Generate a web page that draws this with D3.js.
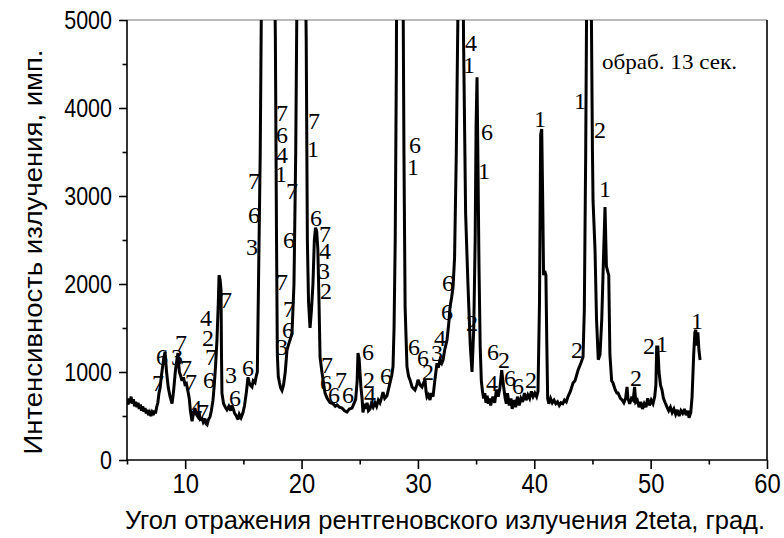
<!DOCTYPE html>
<html>
<head>
<meta charset="utf-8">
<script src="https://cdn.jsdelivr.net/npm/d3@7"></script>
<style>
  html, body { margin: 0; padding: 0; background: #fff; }
  svg { display: block; }
</style>
</head>
<body>
<svg id="chart" width="784" height="538"></svg>
<script>
// ---- data ----
const twoTheta = [
  5.0,5.1,5.15,5.25,5.35,5.45,5.55,5.65,5.75,5.85,5.95,6.05,6.15,6.25,6.35,6.45,6.55,6.65,6.75,6.85,6.95,7.05,7.15,7.25,7.35,7.45,7.55,7.65,7.75,7.85,7.95,8.05,8.15,8.27,8.4,8.55,8.7,8.87,9.0,9.15,9.3,9.38,9.5,9.6,9.73,9.85,9.98,10.1,10.24,10.35,10.45,10.59,10.7,10.84,10.95,11.1,11.2,11.3,11.45,11.55,11.7,11.8,11.88,12.0,12.13,12.25,12.39,12.5,12.6,12.73,12.85,12.91,13.0,13.08,13.12,13.16,13.3,13.45,13.59,13.75,13.9,14.0,14.11,14.25,14.4,14.54,14.65,14.8,14.97,15.1,15.25,15.4,15.5,15.6,15.74,15.85,16.0,16.1,16.2,16.3,16.45,16.55,16.9,17.2,17.6,17.75,17.85,17.92,18.0,18.1,18.2,18.32,18.45,18.6,18.75,18.9,19.05,19.18,19.35,19.5,19.6,19.9,20.2,20.4,20.5,20.6,20.73,20.85,20.98,21.1,21.2,21.3,21.4,21.5,21.59,21.76,22.02,22.2,22.45,22.7,22.9,23.05,23.25,23.48,23.7,23.91,24.1,24.34,24.5,24.65,24.78,24.85,24.95,25.1,25.2,25.28,25.4,25.5,25.63,25.75,25.88,26.0,26.15,26.31,26.45,26.6,26.74,26.9,27.0,27.15,27.34,27.5,27.6,27.75,27.86,27.95,28.05,28.15,28.25,28.5,28.7,28.8,28.9,29.06,29.2,29.32,29.5,29.75,29.9,30.01,30.2,30.35,30.5,30.61,30.7,30.78,30.9,31.04,31.15,31.3,31.45,31.64,31.75,31.9,32.05,32.16,32.3,32.5,32.65,32.76,32.9,33.02,33.15,33.3,33.45,33.7,33.92,34.1,34.3,34.5,34.65,34.8,34.92,35.0,35.08,35.15,35.25,35.35,35.45,35.55,35.65,35.75,35.85,35.95,36.05,36.15,36.25,36.35,36.45,36.6,36.75,36.9,37.05,37.2,37.35,37.5,37.6,37.7,37.85,38.0,38.1,38.25,38.4,38.55,38.7,38.85,39.0,39.15,39.3,39.45,39.6,39.75,39.9,40.05,40.2,40.32,40.45,40.55,40.64,40.72,40.8,40.9,41.0,41.08,41.15,41.25,41.4,41.55,41.7,41.85,42.0,42.15,42.3,42.45,42.6,42.75,42.9,43.1,43.33,43.5,43.76,44.0,44.19,44.3,44.42,44.5,44.7,44.9,45.0,45.05,45.22,45.35,45.5,45.65,45.8,45.95,46.08,46.2,46.3,46.4,46.5,46.65,46.77,46.95,47.1,47.2,47.4,47.55,47.7,47.85,47.97,48.05,48.2,48.35,48.5,48.62,48.72,48.85,49.0,49.15,49.3,49.45,49.6,49.75,49.9,50.05,50.2,50.35,50.45,50.52,50.62,50.72,50.85,50.98,51.1,51.25,51.41,51.55,51.7,51.85,52.0,52.15,52.3,52.45,52.6,52.75,52.9,53.05,53.2,53.3,53.45,53.56,53.7,53.8,53.88,53.98,54.06,54.15,54.25
];
const intensity = [
  680,630,700,650,720,640,690,610,660,600,650,580,630,560,610,550,590,530,570,510,540,500,540,510,560,530,600,650,760,820,950,1050,1150,1230,1000,820,720,640,780,1000,1150,1215,1000,960,900,940,860,870,780,700,560,440,520,590,520,490,540,460,470,430,470,410,400,460,490,560,680,850,1050,1360,1800,2100,2050,1930,1200,760,640,600,570,610,560,620,590,530,500,460,520,480,540,620,760,940,880,850,830,900,880,950,1000,2000,3500,5200,9000,9500,6500,4800,2500,1200,950,880,820,790,850,1000,1250,1320,1380,1440,2000,3500,5200,10000,7000,4800,2500,1800,1500,1700,2000,2500,2640,2600,2400,1800,1170,990,760,700,650,640,610,625,600,590,560,545,580,590,640,690,900,1216,1150,830,700,540,640,580,650,560,580,640,600,650,610,680,650,720,770,700,730,820,875,960,1060,1500,2500,4500,9000,12000,6000,3500,1740,1060,950,910,830,795,850,910,850,830,880,910,780,716,740,682,760,720,900,1100,1050,1136,1100,1136,1250,1364,1550,1740,1850,1966,2300,3500,5200,9000,4800,2800,2000,1300,1000,1500,2500,3800,4350,3500,2200,1300,900,780,700,760,650,730,640,700,620,680,720,650,800,720,820,1020,850,700,640,760,620,700,580,680,600,720,620,700,660,760,680,740,700,780,720,760,720,780,1800,3700,3760,3000,2100,2150,2100,1300,700,640,700,650,680,640,660,620,650,640,680,660,720,780,875,900,1020,1100,1170,1700,3500,5200,9000,5200,3500,2950,2390,1600,1140,1200,1600,2300,2875,2200,2150,2100,1200,900,875,800,760,760,700,682,650,700,830,700,640,700,680,830,660,680,600,660,580,640,600,700,620,680,640,720,850,1284,1284,1000,850,795,700,650,600,560,600,540,580,520,570,500,560,530,580,510,560,480,540,716,1200,1450,1480,1300,1450,1250,1136
];

// phase labels
const labelText  = ["7","6","3","7","7","7","4","7","4","2","7","6","7","3","6","6","3","6","7",
  "7","6","4","1","7","6","7","7","6","3","7","1","6","7","4","3","2","7","6","7","6","6",
  "6","2","4","6","6","1","6","6","2","3","4","6","6","4","1","2","6","1","6","2","4","6","6","2",
  "1","2","1","2","1","2","2","1","1"];
const labelAngle = [7.66,8.01,9.30,9.64,10.07,10.50,10.93,11.53,11.79,11.96,12.22,12.05,13.51,13.94,14.28,15.40,15.74,15.91,15.91,
  18.32,18.32,18.32,18.23,19.18,18.92,18.32,18.92,18.84,18.32,21.07,20.98,21.24,22.02,22.02,21.93,22.10,22.19,22.10,23.39,22.79,23.99,
  25.71,25.80,25.88,27.26,29.75,29.58,29.66,30.44,30.87,31.64,31.90,32.50,32.59,34.56,34.39,34.65,35.94,35.68,36.45,37.40,36.37,37.92,38.60,39.72,
  40.49,43.67,43.93,45.65,46.08,48.74,49.86,50.98,53.99];
const labelValue = [875,1170,1170,1330,1045,886,591,545,1614,1386,1170,909,1818,966,705,1045,2420,2784,3170,
  3943,3693,3466,3250,3057,2500,2023,1716,1477,1284,3852,3534,2750,2568,2375,2148,1920,1080,875,909,739,739,
  1227,909,739,955,3580,3330,1284,1159,1000,1216,1386,1682,2011,4739,4489,1557,3727,3284,1227,1136,875,932,841,909,
  3875,1250,4080,3750,3080,932,1295,1318,1580];

const xMajorTicks = [10,20,30,40,50,60];
const xMinorTicks = [5,15,25,35,45,55];
const yMajorTicks = [0,1000,2000,3000,4000,5000];
const yMinorTicks = [500,1500,2500,3500,4500];

const xTitle = "Угол отражения рентгеновского излучения 2teta, град.";
const yTitle = "Интенсивность  излучения, имп.";
const note = "обраб. 13 сек.";

// ---- layout ----
const svg = d3.select("#chart");
const L = 127, R = 767, T = 20, B = 460;
const x = d3.scaleLinear().domain([5, 60]).range([L, R]);
const y = d3.scaleLinear().domain([0, 5000]).range([B, T]);

const sansFont = "'Liberation Sans', Arial, sans-serif";
const serifFont = "'Liberation Serif', 'Times New Roman', serif";

// clip
svg.append("defs").append("clipPath").attr("id", "plotClip")
  .append("rect").attr("x", L).attr("y", T).attr("width", R - L).attr("height", B - T);

// frame: top (grey) and right
svg.append("line").attr("x1", L).attr("x2", R).attr("y1", T).attr("y2", T)
  .attr("stroke", "#777").attr("stroke-width", 1.2);
svg.append("line").attr("x1", R).attr("x2", R).attr("y1", T).attr("y2", B)
  .attr("stroke", "#000").attr("stroke-width", 1.6);

// curve
const pts = twoTheta.map((t, i) => [t, intensity[i]]);
const line = d3.line().x(d => x(d[0])).y(d => y(d[1]));
svg.append("g").attr("clip-path", "url(#plotClip)")
  .append("path").datum(pts)
  .attr("d", line)
  .attr("fill", "none")
  .attr("stroke", "#000")
  .attr("stroke-width", 3)
  .attr("stroke-linejoin", "miter")
  .attr("stroke-miterlimit", 3);

// axes
const gx = svg.append("g").attr("transform", `translate(0,${B})`)
  .call(d3.axisBottom(x).tickValues(xMajorTicks).tickSize(9).tickPadding(5).tickFormat(d3.format("d")));
const gxm = svg.append("g").attr("transform", `translate(0,${B})`)
  .call(d3.axisBottom(x).tickValues(xMinorTicks).tickSize(4.5).tickFormat(""));
gxm.select(".domain").remove();
const gy = svg.append("g").attr("transform", `translate(${L},0)`)
  .call(d3.axisLeft(y).tickValues(yMajorTicks).tickSize(8).tickPadding(7).tickFormat(d3.format("d")));
const gym = svg.append("g").attr("transform", `translate(${L},0)`)
  .call(d3.axisLeft(y).tickValues(yMinorTicks).tickSize(4.5).tickFormat(""));
gym.select(".domain").remove();

[gx, gy, gxm, gym].forEach(g => {
  g.selectAll("line").attr("stroke", "#000").attr("stroke-width", 1.6);
  g.selectAll(".domain").attr("stroke", "#000").attr("stroke-width", 1.6);
});
gx.select(".domain").attr("d", `M${L},0H${R}`);
gy.select(".domain").attr("d", `M0,${B}V${T}`);
// condensed-looking tick labels
const sxX = 0.88, sxY = 0.86;
gx.selectAll("text").attr("font-family", sansFont).attr("font-size", 27).attr("fill", "#000")
  .attr("transform", `scale(${sxX},1)`);
gy.selectAll("text").attr("font-family", sansFont).attr("font-size", 25).attr("fill", "#000")
  .attr("x", -15 / sxY)
  .attr("transform", `scale(${sxY},1)`);

// phase labels
const labels = labelText.map((t, i) => ({ t, a: labelAngle[i], v: labelValue[i] }));
svg.append("g").selectAll("text").data(labels).join("text")
  .attr("x", d => x(d.a))
  .attr("y", d => y(d.v))
  .attr("dy", "0.34em")
  .attr("text-anchor", "middle")
  .attr("font-family", serifFont)
  .attr("font-size", 24)
  .attr("fill", "#000")
  .text(d => d.t);

// note
svg.append("text").attr("x", 602).attr("y", 69)
  .attr("font-family", serifFont).attr("font-size", 21)
  .attr("textLength", 135).attr("lengthAdjust", "spacingAndGlyphs")
  .attr("fill", "#000").text(note);

// axis titles
svg.append("text")
  .attr("x", (L + R) / 2 - 2).attr("y", 529)
  .attr("text-anchor", "middle")
  .attr("font-family", sansFont).attr("font-size", 25)
  .attr("textLength", 640).attr("lengthAdjust", "spacingAndGlyphs")
  .attr("fill", "#000").text(xTitle);

svg.append("text")
  .attr("transform", `translate(42,${252}) rotate(-90)`)
  .attr("text-anchor", "middle")
  .attr("font-family", sansFont).attr("font-size", 25)
  .attr("textLength", 405).attr("lengthAdjust", "spacingAndGlyphs")
  .attr("fill", "#000").text(yTitle);
</script>
</body>
</html>
